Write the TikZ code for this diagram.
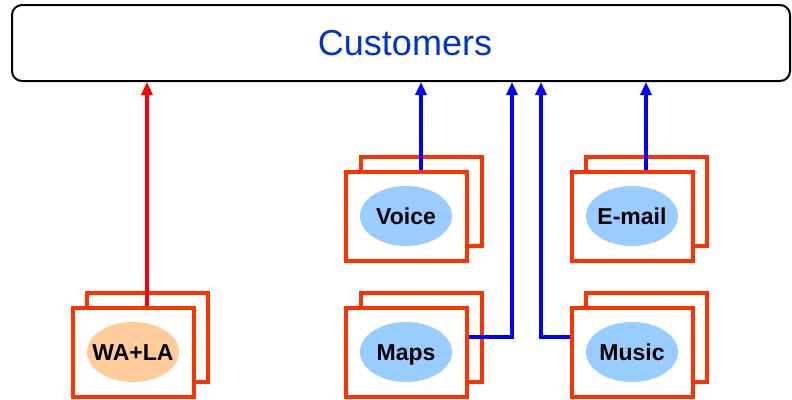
\documentclass[tikz,border=0pt]{standalone}
\usepackage{fontspec}
\setmainfont{Liberation Sans}
\usetikzlibrary{shapes.geometric,arrows.meta}
\definecolor{cardred}{HTML}{FF3300}
\definecolor{linkred}{HTML}{FF0000}
\definecolor{linkblue}{HTML}{0000FF}
\definecolor{pillblue}{HTML}{99CCFF}
\definecolor{pillorange}{HTML}{FFCC99}
\definecolor{titleblue}{HTML}{0033CC}
\tikzset{
  cardbox/.style={draw=cardred, line width=4pt, fill=white, minimum width=121pt, minimum height=89pt, inner sep=0pt},
  pill/.style={ellipse, fill=pillblue, minimum width=92pt, minimum height=60pt, inner sep=0pt},
  pilltext/.style={font=\fontsize{23}{26}\selectfont\bfseries, text height=16.5pt, text depth=0pt, inner sep=0pt},
  link/.style={line width=3.5pt, -{Triangle[width=11pt,length=13pt]}},
  bluelink/.style={link, draw=linkblue},
  redlink/.style={link, draw=linkred},
}
\begin{document}
\begin{tikzpicture}[x=1pt,y=-1pt]
\useasboundingbox (0,0) rectangle (792,399);
% top bar
\node[draw=black, line width=2pt, rounded corners=10pt, minimum width=778pt, minimum height=76pt, inner sep=0pt,
      text=titleblue, font=\fontsize{36}{40}\selectfont] (cust) at (401,43) {\hspace*{8pt}Customers};
% service cards: back sheet, front sheet, oval, label
\node[cardbox] (walaback) at (147,337) {};
\node[cardbox] (wala) at (133,352) {};
\node[pill, fill=pillorange] (walapill) at (wala.center) {};
\node[pilltext] (walalbl) at (walapill.center) {WA+LA};
\node[cardbox] (voiceback) at (421,201) {};
\node[cardbox] (voice) at (406,216) {};
\node[pill] (voicepill) at (voice.center) {};
\node[pilltext] (voicelbl) at (voicepill.center) {Voice};
\node[cardbox] (mailback) at (646,201) {};
\node[cardbox] (mail) at (632,216) {};
\node[pill] (mailpill) at (mail.center) {};
\node[pilltext] (maillbl) at (mailpill.center) {E-mail};
\node[cardbox] (mapsback) at (421,337) {};
\node[cardbox] (maps) at (406,352) {};
\node[pill] (mapspill) at (maps.center) {};
\node[pilltext] (mapslbl) at (mapspill.center) {Maps};
\node[cardbox] (musicback) at (646,337) {};
\node[cardbox] (music) at (632,352) {};
\node[pill] (musicpill) at (music.center) {};
\node[pilltext] (musiclbl) at (musicpill.center) {Music};
% connectors to the top bar
\coordinate (mapsup) at (512,82);
\coordinate (musicup) at (541,82);
\draw[redlink] (walaback.north |- wala.north) -- (walaback.north |- cust.south);
\draw[bluelink] (voiceback.north |- voice.north) -- (voiceback.north |- cust.south);
\draw[bluelink] (mailback.north |- mail.north) -- (mailback.north |- cust.south);
\draw[bluelink] ([yshift=15pt]maps.east) -| (mapsup);
\draw[bluelink] ([yshift=15pt]music.west) -| (musicup);
\end{tikzpicture}
\end{document}
